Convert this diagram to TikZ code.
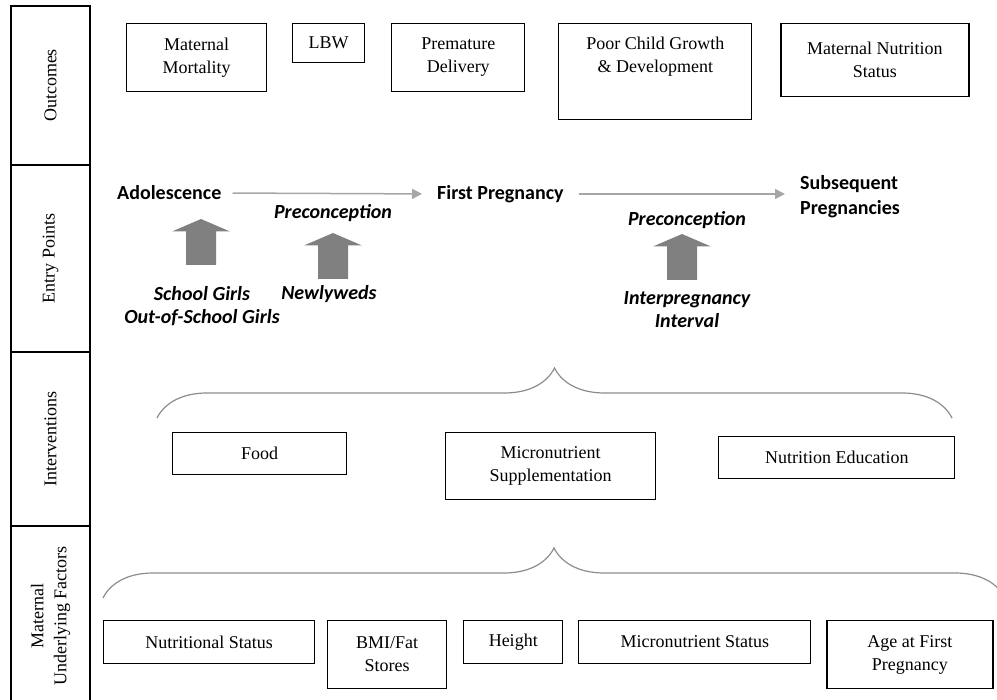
\documentclass[tikz,border=0pt]{standalone}
\usepackage{fontspec}
\setmainfont{Liberation Serif}
\newfontfamily\entryfont{Carlito}
\usetikzlibrary{positioning,arrows.meta,decorations.pathreplacing}
\definecolor{linegray}{HTML}{A6A6A6}
\definecolor{blockgray}{HTML}{808080}
\definecolor{bracegray}{HTML}{8C8C8C}

\begin{document}
\begin{tikzpicture}[
    x=1pt, y=-1pt,
    box/.style={
        rectangle,
        draw,
        line width=1.1pt,
        align=center,
        inner sep=0pt,
        font=\fontsize{18}{23}\selectfont
      },
    side/.style={
        rectangle,
        draw,
        line width=1.1pt,
        rotate=90,
        align=center,
        inner sep=0pt,
        minimum height=79pt,
        font=\fontsize{18}{23}\selectfont
      },
    entry/.style={font=\entryfont\bfseries\fontsize{20}{25}\selectfont, align=center, inner sep=0pt},
    entryit/.style={entry, font=\entryfont\bfseries\itshape\fontsize{20}{23}\selectfont},
    arrow/.style={-{Triangle[length=10pt,width=10pt]}, line width=1.5pt, linegray},
    curly/.style={decorate, decoration={brace, amplitude=50pt}, line width=1.2pt, bracegray}
    ]

    \useasboundingbox (0,0) rectangle (997,700);

    \node[side, minimum width=159pt] (outc) at (50.5,85.5) {Outcomes};
    \node[side, minimum width=187pt] (entpts) at (50.5,258.5) {Entry Points};
    \node[side, minimum width=174pt] (interv) at (50.5,439) {Interventions};
    \node[side, minimum width=180pt] (factors) at (50.5,616) {Maternal\\Underlying Factors};

    \node[box, anchor=north west, minimum width=140pt, minimum height=68pt] (mort) at (126,23) {Maternal\\Mortality};
    \node[box, right=25pt of mort.north east, anchor=north west, minimum width=72pt, minimum height=39pt] (lbw) {LBW};
    \node[box, right=26pt of lbw.north east, anchor=north west, minimum width=133pt, minimum height=68pt] (prem) {Premature\\Delivery};
    \node[box, right=33pt of prem.north east, anchor=north west, minimum width=193pt, minimum height=96pt] (poor) {Poor Child Growth\\\& Development\\[11pt]\mbox{}};
    \node[box, right=28pt of poor.north east, anchor=north west, minimum width=188pt, minimum height=73pt] (mns) {Maternal Nutrition\\Status};

    \node[entry, anchor=west] (adol) at (117,193) {Adolescence};
    \node[entry, anchor=west] (first) at (437,194) {First Pregnancy};
    \node[entry, anchor=west, align=left] (subs) at (800,197) {Subsequent\\Pregnancies};

    \draw[arrow, shorten <=11pt, shorten >=15pt] (adol.east) -- (first.west);
    \draw[arrow, shorten <=15pt, shorten >=15pt] (first.east) -- (first.east -| subs.west);

    \node[entryit] (preA) at (333,213) {Preconception};
    \node[entryit] (preB) at (687,220) {Preconception};
    \node[entryit] (girls) at (202,306) {School Girls\\Out-of-School Girls};
    \node[entryit] (newly) at (329,294) {Newlyweds};
    \node[entryit] (interp) at (687,310) {Interpregnancy\\Interval};

    \foreach \cx/\ty in {201/219, 333/233, 682/234}
      \fill[blockgray] (\cx,\ty) -- ++(29,12.5) -- ++(-14,0) -- ++(0,33.5) -- ++(-30,0) -- ++(0,-33.5) -- ++(-14,0) -- cycle;

    \coordinate (bl1) at (157,418);
    \coordinate (br1) at (952,418);
    \draw[curly] (bl1) -- (br1);

    \node[box, anchor=north west, minimum width=174pt, minimum height=42pt] (food) at (172,432) {Food};
    \node[box, right=98pt of food.north east, anchor=north west, minimum width=210pt, minimum height=67pt] (supp) {Micronutrient\\Supplementation};
    \node[box, below right=4pt and 62pt of supp.north east, anchor=north west, minimum width=236pt, minimum height=42pt] (nedu) {Nutrition Education};

    \coordinate (bl2) at (103,598);
    \coordinate (br2) at (1005,598);
    \draw[curly] (bl2) -- (br2);

    \node[box, anchor=north west, minimum width=211pt, minimum height=43pt] (nstat) at (103,620) {Nutritional Status};
    \node[box, right=12pt of nstat.north east, anchor=north west, minimum width=119pt, minimum height=68pt] (bmi) {BMI/Fat\\Stores};
    \node[box, right=16pt of bmi.north east, anchor=north west, minimum width=99pt, minimum height=43pt] (hgt) {Height};
    \node[box, right=15pt of hgt.north east, anchor=north west, minimum width=232pt, minimum height=43pt] (mstat) {Micronutrient Status};
    \node[box, right=15pt of mstat.north east, anchor=north west, minimum width=166pt, minimum height=68pt] (age) {Age at First\\Pregnancy};

  \end{tikzpicture}
\end{document}
